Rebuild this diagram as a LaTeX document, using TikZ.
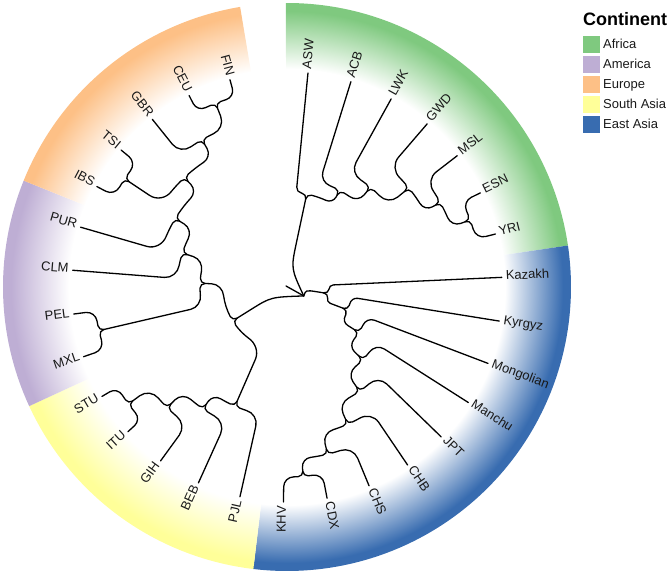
\documentclass[tikz,border=0pt]{standalone}
\usepackage{fontspec}
\setmainfont{Liberation Sans}
\definecolor{cAfr}{HTML}{7FC97F}
\definecolor{cAme}{HTML}{BEAED4}
\definecolor{cEur}{HTML}{FDC086}
\definecolor{cSAs}{HTML}{FFFF99}
\definecolor{cEAs}{HTML}{386CB0}
\pgfdeclareradialshading{shAfr}{\pgfpointorigin}{color(0bp)=(white); color(218bp)=(white); color(276bp)=(cAfr); color(290bp)=(cAfr)}
\pgfdeclareradialshading{shAme}{\pgfpointorigin}{color(0bp)=(white); color(218bp)=(white); color(276bp)=(cAme); color(290bp)=(cAme)}
\pgfdeclareradialshading{shEur}{\pgfpointorigin}{color(0bp)=(white); color(218bp)=(white); color(276bp)=(cEur); color(290bp)=(cEur)}
\pgfdeclareradialshading{shSAs}{\pgfpointorigin}{color(0bp)=(white); color(218bp)=(white); color(276bp)=(cSAs); color(290bp)=(cSAs)}
\pgfdeclareradialshading{shEAs}{\pgfpointorigin}{color(0bp)=(white); color(218bp)=(white); color(276bp)=(cEAs); color(290bp)=(cEAs)}
\tikzset{
  treeline/.style={draw=black, line width=1.3bp, line cap=round, line join=round},
  leaflab/.style={font=\fontsize{13bp}{15bp}\selectfont, inner sep=0pt, text=black!90},
  keybox/.style={minimum width=17bp, minimum height=17bp, inner sep=0pt, outer sep=0pt, draw=none},
  leglab/.style={font=\fontsize{13bp}{15bp}\selectfont, inner sep=0pt, anchor=base west, text=black!90}
}
\def\Rz{15}
\def\Rin{5}
\newcommand\ringsector[3]{%
  \begin{scope}
    \clip (#1:218) arc[start angle=#1, end angle=#2, radius=218] -- (#2:284) arc[start angle=#2, end angle=#1, radius=284] -- cycle;
    \node[inner sep=0pt, outer sep=0pt] at (0,0) {\pgfuseshading{#3}};
  \end{scope}}
% #1 parent angle, #2 parent radius, #3 parent branch length, #4 child angle, #5 child radius, #6 child name
\newcommand\tedge[6]{%
  \pgfmathsetmacro\tEal{abs((#4)-(#1))*(#2)*pi/180}%
  \pgfmathsetmacro\tEri{min(\Rin,(#3)/2)}%
  \pgfmathsetmacro\tEdi{min(\tEri,\tEal/2)}%
  \pgfmathsetmacro\tEre{min(\Rz,\tEal/2,((#5)-(#2))/2)}%
  \pgfmathsetmacro\tEs{(#4)>(#1) ? 1 : -1}%
  \pgfmathsetmacro\tEk{180/(pi*(#2))}%
  \pgfmathsetmacro\tEa{(#1)+\tEs*\tEdi*\tEk}%
  \pgfmathsetmacro\tEac{(#1)+0.45*\tEs*\tEdi*\tEk}%
  \pgfmathsetmacro\tEb{(#4)-\tEs*\tEre*\tEk}%
  \pgfmathsetmacro\tEbc{(#4)-0.45*\tEs*\tEre*\tEk}%
  \pgfmathsetmacro\tEr{(#2)-\tEri}%
  \pgfmathsetmacro\tErc{(#2)-0.45*\tEri}%
  \pgfmathsetmacro\tEq{(#2)+\tEre}%
  \pgfmathsetmacro\tEqc{(#2)+0.45*\tEre}%
  \pgfmathsetmacro\tEe{(#5)>214 ? (#5) : (#5)-min(\Rin,((#5)-(#2))/2)}%
  \draw[treeline] (#1:\tEr) .. controls (#1:\tErc) and (\tEac:#2) .. (\tEa:#2)
     arc[start angle=\tEa, end angle=\tEb, radius=#2]
     .. controls (\tEbc:#2) and (#4:\tEqc) .. (#4:\tEq) -- (#4:\tEe);
}
\newcommand\leaf[3]{%
  \coordinate (t#1) at (#2:215);
  \pgfmathsetmacro\lfN{(#2)<-180 ? (#2)+360 : (#2)}%
  \pgfmathtruncatemacro\lfR{((\lfN>-90) && (\lfN<90)) ? 1 : 0}%
  \ifnum\lfR=1
    \node[leaflab, rotate=\lfN, anchor=mid west] (l#1) at (#2:219) {#3};
  \else
    \pgfmathsetmacro\lfM{\lfN+180}%
    \node[leaflab, rotate=\lfM, anchor=mid east] (l#1) at (#2:219) {#3};
  \fi}
\begin{document}
\begin{tikzpicture}[x=1bp, y=1bp]
\useasboundingbox (-287,-285) rectangle (382,287);
% coloured ring
\ringsector{8.4}{90.25}{shAfr}
\ringsector{-96.8}{8.4}{shEAs}
\ringsector{-155.2}{-96.8}{shSAs}
\ringsector{-202.0}{-155.2}{shAme}
\ringsector{-260.5}{-202.0}{shEur}
% internal nodes
\coordinate (nT) at (-1,1);
\coordinate (nR) at (-28.07:19);
\coordinate (nA) at (78:95);
\coordinate (nAC) at (61.385:110);
\coordinate (nL) at (50.06:130);
\coordinate (nG) at (39.10:157);
\coordinate (nM) at (28.87:175);
\coordinate (nEY) at (20.105:195);
\coordinate (nE) at (-9.08:42);
\coordinate (nKy) at (-20.72:65);
\coordinate (nMo) at (-32.32:85);
\coordinate (nMc) at (-43.83:105);
\coordinate (nJ) at (-55.15:127);
\coordinate (nB) at (-66.11:150);
\coordinate (nS) at (-76.34:172);
\coordinate (nCK) at (-85.105:190);
\coordinate (nLf) at (-148.03:64);
\coordinate (nP) at (-113.6:130);
\coordinate (nB2) at (-124.56:148);
\coordinate (nG2) at (-134.79:170);
\coordinate (nIS) at (-143.555:197);
\coordinate (nAE) at (-182.46:87);
\coordinate (nPM) at (-166.935:193);
\coordinate (nU) at (-197.99:110);
\coordinate (nU2) at (-211.5:131);
\coordinate (nEU) at (-226.85:150);
\coordinate (nIT) at (-213.695:195);
\coordinate (nGCF) at (-240.0:170);
\coordinate (nCF) at (-248.765:197);
% leaves
\leaf{ASW}{84.4}{ASW}
\leaf{ACB}{72.71}{ACB}
\leaf{LWK}{61.02}{LWK}
\leaf{GWD}{49.33}{GWD}
\leaf{MSL}{37.64}{MSL}
\leaf{ESN}{25.95}{ESN}
\leaf{YRI}{14.26}{YRI}
\leaf{Kazakh}{2.57}{Kazakh}
\leaf{Kyrgyz}{-9.12}{Kyrgyz}
\leaf{Mongolian}{-20.81}{Mongolian}
\leaf{Manchu}{-32.5}{Manchu}
\leaf{JPT}{-44.19}{JPT}
\leaf{CHB}{-55.88}{CHB}
\leaf{CHS}{-67.57}{CHS}
\leaf{CDX}{-79.26}{CDX}
\leaf{KHV}{-90.95}{KHV}
\leaf{PJL}{-102.64}{PJL}
\leaf{BEB}{-114.33}{BEB}
\leaf{GIH}{-126.02}{GIH}
\leaf{ITU}{-137.71}{ITU}
\leaf{STU}{-149.4}{STU}
\leaf{MXL}{-161.09}{MXL}
\leaf{PEL}{-172.78}{PEL}
\leaf{CLM}{-184.47}{CLM}
\leaf{PUR}{-196.16}{PUR}
\leaf{IBS}{-207.85}{IBS}
\leaf{TSI}{-219.54}{TSI}
\leaf{GBR}{-231.23}{GBR}
\leaf{CEU}{-242.92}{CEU}
\leaf{FIN}{-254.61}{FIN}
% root
\draw[treeline] (nT) -- (nR);
\draw[treeline] (nR) .. controls (78:19) .. (78:45) -- (78:90);
\draw[treeline] (nR) .. controls (-9.08:19) .. (-9.08:30.5) -- (-9.08:37);
\draw[treeline] (nR) .. controls (-148.03:19) .. (-148.03:42) -- (-148.03:59);
% Africa
\tedge{78}{95}{76}{84.4}{215}{tASW}
\tedge{78}{95}{76}{61.385}{110}{nAC}
\tedge{61.385}{110}{15}{72.71}{215}{tACB}
\tedge{61.385}{110}{15}{50.06}{130}{nL}
\tedge{50.06}{130}{20}{61.02}{215}{tLWK}
\tedge{50.06}{130}{20}{39.10}{157}{nG}
\tedge{39.10}{157}{27}{49.33}{215}{tGWD}
\tedge{39.10}{157}{27}{28.87}{175}{nM}
\tedge{28.87}{175}{18}{37.64}{215}{tMSL}
\tedge{28.87}{175}{18}{20.105}{195}{nEY}
\tedge{20.105}{195}{20}{25.95}{215}{tESN}
\tedge{20.105}{195}{20}{14.26}{215}{tYRI}
% East Asia
\tedge{-9.08}{42}{23}{2.57}{215}{tKazakh}
\tedge{-9.08}{42}{23}{-20.72}{65}{nKy}
\tedge{-20.72}{65}{23}{-9.12}{215}{tKyrgyz}
\tedge{-20.72}{65}{23}{-32.32}{85}{nMo}
\tedge{-32.32}{85}{20}{-20.81}{215}{tMongolian}
\tedge{-32.32}{85}{20}{-43.83}{105}{nMc}
\tedge{-43.83}{105}{20}{-32.5}{215}{tManchu}
\tedge{-43.83}{105}{20}{-55.15}{127}{nJ}
\tedge{-55.15}{127}{22}{-44.19}{215}{tJPT}
\tedge{-55.15}{127}{22}{-66.11}{150}{nB}
\tedge{-66.11}{150}{23}{-55.88}{215}{tCHB}
\tedge{-66.11}{150}{23}{-76.34}{172}{nS}
\tedge{-76.34}{172}{22}{-67.57}{215}{tCHS}
\tedge{-76.34}{172}{22}{-85.105}{190}{nCK}
\tedge{-85.105}{190}{18}{-79.26}{215}{tCDX}
\tedge{-85.105}{190}{18}{-90.95}{215}{tKHV}
% South Asia, America, Europe
\tedge{-148.03}{64}{45}{-113.6}{130}{nP}
\tedge{-148.03}{64}{45}{-182.46}{87}{nAE}
\tedge{-113.6}{130}{66}{-102.64}{215}{tPJL}
\tedge{-113.6}{130}{66}{-124.56}{148}{nB2}
\tedge{-124.56}{148}{18}{-114.33}{215}{tBEB}
\tedge{-124.56}{148}{18}{-134.79}{170}{nG2}
\tedge{-134.79}{170}{22}{-126.02}{215}{tGIH}
\tedge{-134.79}{170}{22}{-143.555}{197}{nIS}
\tedge{-143.555}{197}{27}{-137.71}{215}{tITU}
\tedge{-143.555}{197}{27}{-149.4}{215}{tSTU}
\tedge{-182.46}{87}{23}{-166.935}{193}{nPM}
\tedge{-182.46}{87}{23}{-197.99}{110}{nU}
\tedge{-166.935}{193}{106}{-172.78}{215}{tPEL}
\tedge{-166.935}{193}{106}{-161.09}{215}{tMXL}
\tedge{-197.99}{110}{23}{-184.47}{215}{tCLM}
\tedge{-197.99}{110}{23}{-211.5}{131}{nU2}
\tedge{-211.5}{131}{21}{-196.16}{215}{tPUR}
\tedge{-211.5}{131}{21}{-226.85}{150}{nEU}
\tedge{-226.85}{150}{19}{-213.695}{195}{nIT}
\tedge{-226.85}{150}{19}{-240.0}{170}{nGCF}
\tedge{-213.695}{195}{45}{-207.85}{215}{tIBS}
\tedge{-213.695}{195}{45}{-219.54}{215}{tTSI}
\tedge{-240.0}{170}{20}{-231.23}{215}{tGBR}
\tedge{-240.0}{170}{20}{-248.765}{197}{nCF}
\tedge{-248.765}{197}{27}{-242.92}{215}{tCEU}
\tedge{-248.765}{197}{27}{-254.61}{215}{tFIN}
% legend
\node[font=\fontsize{18bp}{20bp}\selectfont\bfseries, anchor=base west, inner sep=0pt] (legtitle) at (296,261) {Continent};
\node[keybox, fill=cAfr] (kAfr) at (304.5,242.5) {};
\node[keybox, fill=cAme] (kAme) at (304.5,222.5) {};
\node[keybox, fill=cEur] (kEur) at (304.5,202.5) {};
\node[keybox, fill=cSAs] (kSAs) at (304.5,182.5) {};
\node[keybox, fill=cEAs] (kEAs) at (304.5,162.5) {};
\node[leglab] (gAfr) at (316,238) {Africa};
\node[leglab] (gAme) at (316,218) {America};
\node[leglab] (gEur) at (316,198) {Europe};
\node[leglab] (gSAs) at (316,178) {South Asia};
\node[leglab] (gEAs) at (316,158) {East Asia};
\end{tikzpicture}
\end{document}
